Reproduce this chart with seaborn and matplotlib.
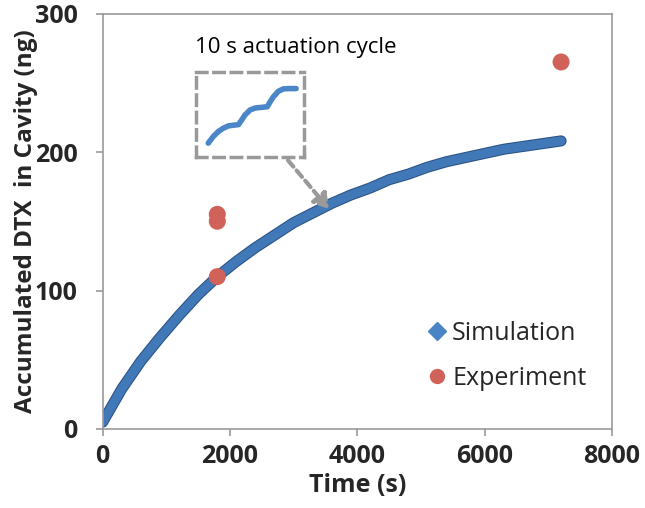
import matplotlib
matplotlib.use("Agg")
import matplotlib.pyplot as plt
import matplotlib.patheffects as pe
from matplotlib.lines import Line2D
import seaborn as sns
import pandas as pd

# ---- data ----
sim_time = [0, 300, 600, 900, 1200, 1500, 1800, 2100, 2400, 2700, 3000, 3300, 3600,
            3900, 4200, 4500, 4800, 5100, 5400, 5700, 6000, 6300, 6600, 6900, 7200]
sim_dtx = [5, 29, 49, 66, 82, 97, 110, 121, 131, 140, 149, 156, 163,
           169, 174, 180, 184, 189, 193, 196, 199, 202, 204, 206, 208]
exp_time = [1800, 1800, 1800, 7200]
exp_dtx = [110, 150, 155, 265]

# inset: zoomed view of the stepwise rise (10 s actuation cycles)
inset_t = [3.4, 4.8, 6.2, 7.6, 9.0, 10.4, 11.8, 12.7, 13.6, 15.0, 16.4, 18.2,
           19.8, 20.6, 21.5, 22.9, 24.3, 26.1, 27.8]
inset_v = [0.163, 0.241, 0.300, 0.339, 0.366, 0.374, 0.381, 0.436, 0.494, 0.553,
           0.576, 0.584, 0.591, 0.650, 0.708, 0.774, 0.802, 0.805, 0.805]

x_ticks = [0, 2000, 4000, 6000, 8000]
y_ticks = [0, 100, 200, 300]

sim_df = pd.DataFrame({"t": sim_time, "v": sim_dtx})
exp_df = pd.DataFrame({"t": exp_time, "v": exp_dtx})
ins_df = pd.DataFrame({"t": inset_t, "v": inset_v})

sns.set_theme(style="white")
plt.rcParams["font.family"] = ["Open Sans", "DejaVu Sans"]

fig = plt.figure(figsize=(6.45, 5.08), dpi=100)
ax = fig.add_axes([102.7 / 645, 1 - 429 / 508, (612 - 102.7) / 645, (429 - 13.5) / 508])

blue = "#4078b8"
red = "#d0625a"

sns.lineplot(data=sim_df, x="t", y="v", ax=ax, color=blue, linewidth=6.5,
             solid_capstyle="round",
             path_effects=[pe.Stroke(linewidth=8, foreground="#2a5282"), pe.Normal()])
sns.scatterplot(data=exp_df, x="t", y="v", ax=ax, color=red, s=150,
                edgecolor="none", zorder=5)

ax.set_xlim(0, 8000)
ax.set_ylim(0, 300)
ax.set_xticks(x_ticks)
ax.set_yticks(y_ticks)
ax.set_xticklabels([str(v) for v in x_ticks], fontsize=18, fontweight="bold")
ax.set_yticklabels([str(v) for v in y_ticks], fontsize=18, fontweight="bold")
for s in ax.spines.values():
    s.set_color("#999999")
    s.set_linewidth(1.2)
ax.tick_params(axis="both", direction="out", length=5, width=1.2, color="#999999",
               bottom=True, left=True)
ax.tick_params(axis="x", pad=6)
ax.tick_params(axis="y", pad=13)
ax.set_xlabel("Time (s)", fontsize=18, fontweight="bold", labelpad=3)
ax.set_ylabel("Accumulated DTX  in Cavity (ng)", fontsize=17.5, fontweight="bold", labelpad=-2)

# legend
handles = [Line2D([], [], marker="D", linestyle="none", color="#4a84c4", markersize=9),
           Line2D([], [], marker="o", linestyle="none", color=red, markersize=10)]
ax.legend(handles, ["Simulation", "Experiment"], loc="center left",
          bbox_to_anchor=(0.632, 0.176), frameon=False, fontsize=18,
          handletextpad=0.1, labelspacing=0.8, handlelength=1.0,
          borderpad=0, borderaxespad=0)

# arrow from inset box to curve
ax.annotate("", xy=(3552, 159), xytext=(2911, 194),
            arrowprops=dict(arrowstyle="-|>,head_length=0.7,head_width=0.45",
                            color="#9a9a9a", lw=3, linestyle=(0, (2, 1.2)),
                            shrinkA=0, shrinkB=0))

# inset axes
iax = fig.add_axes([196 / 645, 1 - 157 / 508, 108 / 645, 85 / 508])
sns.lineplot(data=ins_df, x="t", y="v", ax=iax, color="#4a86c8", linewidth=4)
iax.set_xlim(0, 30)
iax.set_ylim(0, 1)
iax.set_xticks([])
iax.set_yticks([])
iax.set_xlabel("")
iax.set_ylabel("")
iax.patch.set_alpha(0)
for s in iax.spines.values():
    s.set_color("#999999")
    s.set_linewidth(2.5)
    s.set_linestyle((0, (3, 2)))

fig.text(195 / 645, 1 - 48 / 508, "10 s actuation cycle", fontsize=16,
         ha="left", va="center", color="black")

fig.savefig("out.png", dpi=100)
